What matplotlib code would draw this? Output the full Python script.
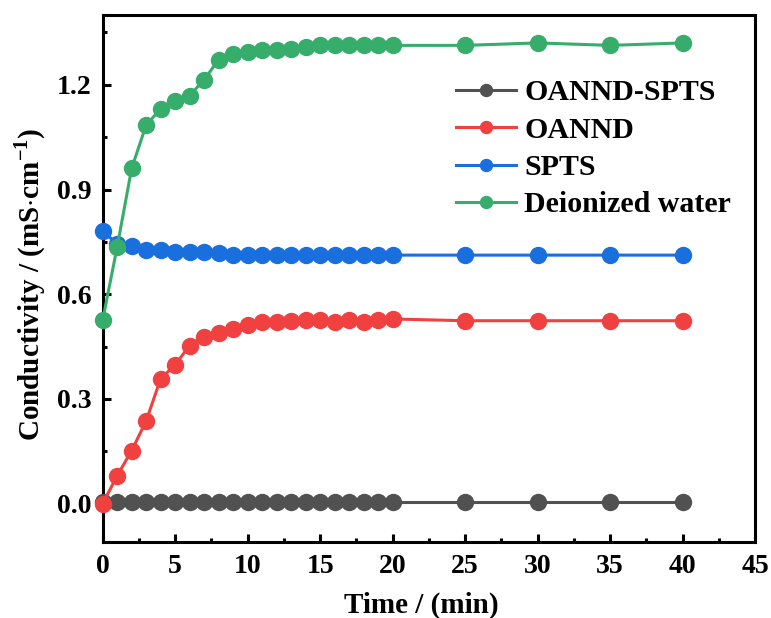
import matplotlib
matplotlib.use("Agg")
import matplotlib.pyplot as plt
from matplotlib.ticker import MultipleLocator, FormatStrFormatter

plt.rcParams['font.family'] = ['Liberation Serif', 'DejaVu Serif']
plt.rcParams['font.weight'] = 'bold'
plt.rcParams['mathtext.fontset'] = 'custom'
plt.rcParams['mathtext.rm'] = 'Liberation Serif:bold'
plt.rcParams['mathtext.bf'] = 'Liberation Serif:bold'

time = [0, 1, 2, 3, 4, 5, 6, 7, 8, 9, 10, 11, 12, 13, 14, 15, 16, 17, 18, 19, 20, 25, 30, 35, 40]
oannd_spts = [0.004] * 25
oannd = [0.0, 0.080, 0.152, 0.237, 0.358, 0.398, 0.453, 0.478, 0.489, 0.501, 0.511, 0.519, 0.521,
         0.524, 0.525, 0.525, 0.521, 0.525, 0.521, 0.525, 0.529, 0.524, 0.524, 0.524, 0.524]
spts = [0.780, 0.745, 0.737, 0.727, 0.727, 0.722, 0.722, 0.722, 0.718, 0.712, 0.712, 0.712, 0.712,
        0.712, 0.712, 0.712, 0.712, 0.712, 0.712, 0.712, 0.712, 0.712, 0.712, 0.712, 0.712]
water = [0.526, 0.736, 0.961, 1.085, 1.131, 1.155, 1.169, 1.215, 1.272, 1.289, 1.294, 1.299, 1.300,
         1.303, 1.308, 1.313, 1.313, 1.313, 1.313, 1.313, 1.313, 1.313, 1.320, 1.313, 1.320]

series = [("OANND-SPTS", oannd_spts, "#515151"),
          ("OANND", oannd, "#F14040"),
          ("SPTS", spts, "#1A6FDF"),
          ("Deionized water", water, "#37AD6B")]

fig = plt.figure(figsize=(7.71, 6.18), dpi=100)
ax = fig.add_axes([0.1332, 0.123, 0.9793 - 0.1332, 0.9757 - 0.123])

for name, vals, col in series:
    ax.plot(time, vals, '-o', color=col, lw=2.2, ms=11.5, label=name, clip_on=False, zorder=3)

ax.set_xlim(0, 45)
ax.set_ylim(-0.11, 1.40)
ax.xaxis.set_major_locator(MultipleLocator(5))
ax.xaxis.set_minor_locator(MultipleLocator(2.5))
ax.yaxis.set_major_locator(MultipleLocator(0.3))
ax.yaxis.set_minor_locator(MultipleLocator(0.15))
ax.yaxis.set_major_formatter(FormatStrFormatter('%.1f'))

for s in ax.spines.values():
    s.set_linewidth(2.2)
ax.tick_params(which='major', direction='in', length=6, width=2.2, labelsize=20)
ax.tick_params(axis='y', which='major', pad=8)
ax.tick_params(axis='x', which='major', pad=9)
ax.tick_params(which='minor', direction='in', length=3, width=2.2)
for lbl in ax.get_xticklabels() + ax.get_yticklabels():
    lbl.set_fontweight('bold')

ax.set_xlabel("Time / (min)", fontsize=21, fontweight='bold')
ax.set_ylabel(r"Conductivity / (mS$\cdot$cm$^{\mathbf{-1}}$)", fontsize=21, fontweight='bold')
ax.xaxis.set_label_coords(0.4885, -0.094)
ax.yaxis.set_label_coords(-0.084, 0.488)

leg = ax.legend(loc='upper right', bbox_to_anchor=(0.995, 0.918), frameon=False,
                prop={'size': 21.5, 'weight': 'bold'}, handlelength=2.0, handletextpad=0.28,
                labelspacing=0.35, markerscale=0.75, borderaxespad=0.3)

fig.savefig("out.png", dpi=100)
